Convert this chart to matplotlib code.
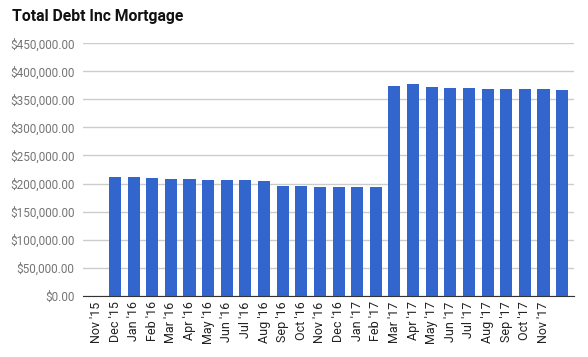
import numpy as np
import matplotlib.pyplot as plt
from matplotlib.ticker import FuncFormatter

plt.rcParams["font.family"] = ["Roboto", "DejaVu Sans"]

# Data
months = ["Dec '15", "Jan '16", "Feb '16", "Mar '16", "Apr '16", "May '16", "Jun '16",
          "Jul '16", "Aug '16", "Sep '16", "Oct '16", "Nov '16", "Dec '16", "Jan '17",
          "Feb '17", "Mar '17", "Apr '17", "May '17", "Jun '17", "Jul '17", "Aug '17",
          "Sep '17", "Oct '17", "Nov '17", "Dec '17"]
debt = [211100, 211100, 209900, 208100, 208100, 206300, 206300, 206300, 204500,
        195600, 195600, 193800, 193800, 193800, 193800,
        373900, 377500, 372100, 370400, 370400, 368600, 368600, 368600, 368600, 366800]
tick_labels = ["Nov '15"] + months[:-1]
y_ticks = [0, 50000, 100000, 150000, 200000, 250000, 300000, 350000, 400000, 450000]

fig = plt.figure(figsize=(5.88, 3.57), dpi=100)
ax = fig.add_axes([83 / 588, 1 - 295.7 / 357, (574 - 83) / 588, (295.7 - 43.3) / 357])

x = np.arange(len(debt))
ax.bar(x, debt, width=0.65, color="#3366cc", zorder=3)

ax.set_xlim(-1.72, 24.64)
ax.set_ylim(0, 450000)
ax.set_yticks(y_ticks)
ax.yaxis.set_major_formatter(FuncFormatter(lambda v, p: "${:,.2f}".format(v)))
ax.set_xticks(np.arange(-1, len(tick_labels) - 1))
ax.set_xticklabels(tick_labels, rotation=90)

ax.grid(axis="y", color="#cccccc", linewidth=1, zorder=0)
for s in ["top", "right", "left"]:
    ax.spines[s].set_visible(False)
ax.spines["bottom"].set_color("#333333")
ax.spines["bottom"].set_zorder(4)
ax.tick_params(axis="y", length=0, pad=6, labelsize=8.5, labelcolor="#757575")
ax.tick_params(axis="x", length=0, pad=4, labelsize=9, labelcolor="#222222")

fig.text(12 / 588, 1 - 17 / 357, "Total Debt Inc Mortgage", fontsize=11.3,
         fontweight="bold", color="#111111", va="center", ha="left")

fig.savefig("out.png", dpi=100)
